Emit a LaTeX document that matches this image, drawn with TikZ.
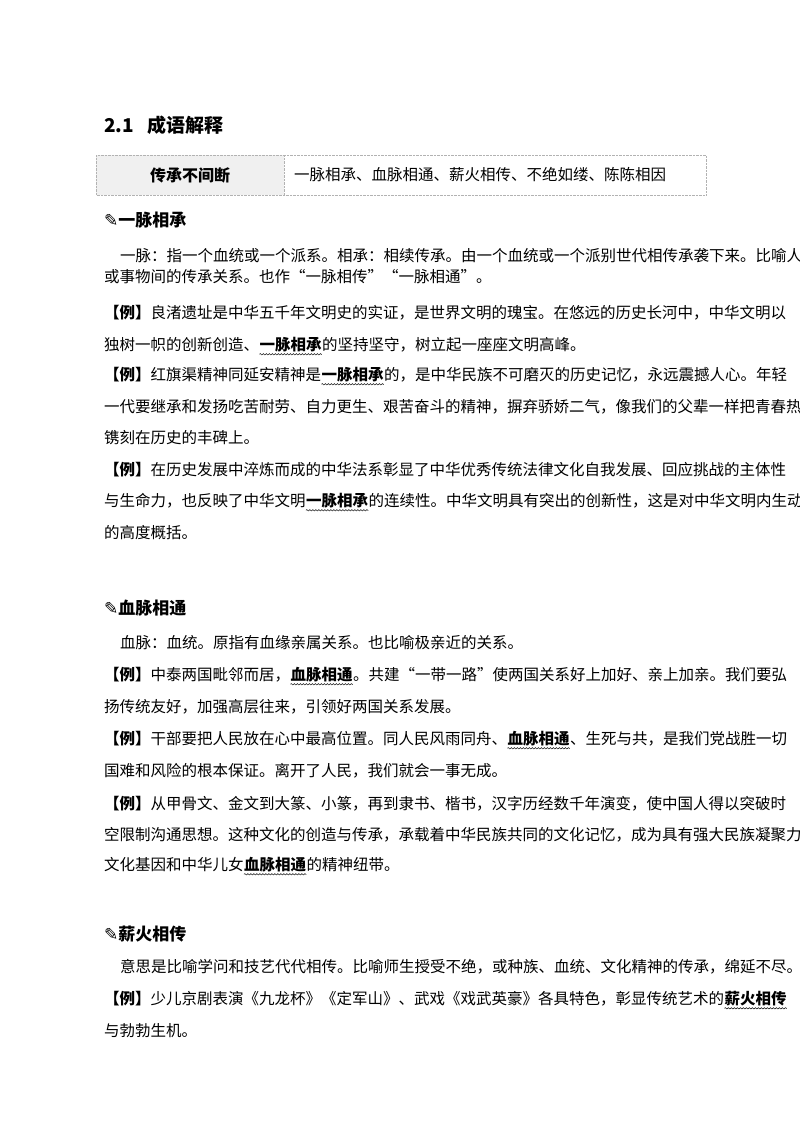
\documentclass[tikz,border=0pt]{standalone}
\usepackage{fontspec}
\usetikzlibrary{decorations.pathmorphing}
\setmainfont{Noto Sans CJK SC}
\newfontfamily\symf{DejaVu Sans}
\XeTeXlinebreaklocale "zh"
\XeTeXlinebreakskip=0pt plus 3pt
\newcommand{\kw}[1]{\tikz[baseline=(kwx.base),x=1pt,y=1pt]{\node[inner sep=0pt,anchor=base] (kwx) {\textbf{#1}};\draw[line width=0.5pt,decorate,decoration={snake,amplitude=0.7pt,segment length=3pt}] ([yshift=-2.5pt]kwx.south west) -- ([yshift=-2.5pt]kwx.south east);}}
\newcommand{\fullln}[1]{\makebox[678pt][s]{#1}}
\newcommand{\indln}[1]{\makebox[662pt][s]{#1}}
\tikzset{ln/.style={anchor=west,inner sep=0pt,font=\fontsize{15.5}{18}\selectfont},
hd/.style={anchor=west,inner sep=0pt,font=\fontsize{17}{20}\selectfont\bfseries}}
\begin{document}
\begin{tikzpicture}[x=1pt,y=-1pt]
\useasboundingbox (0,0) rectangle (800,1132);
\node[hd,font=\fontsize{19}{22}\selectfont\bfseries] (t) at (104,125) {2.1\hspace{14pt}成语解释};
\fill[gray!12] (96,155) rectangle (284,195);
\draw[gray!60,densely dotted] (96,155) rectangle (706,195) (284,155) -- (284,195);
\node[font=\fontsize{16}{18}\selectfont\bfseries] (c1) at (190,175) {传承不间断};
\node[ln] (c2) at (294,175) {一脉相承、血脉相通、薪火相传、不绝如缕、陈陈相因};
\node[hd] (h1) at (104,220) {{\symf ✎}一脉相承};
\node[ln] (a1) at (120,256) {\indln{一脉：指一个血统或一个派系。相承：相续传承。由一个血统或一个派别世代相传承袭下来。比喻人}};
\node[ln] (a2) at (104,277) {或事物间的传承关系。也作“一脉相传”“一脉相通”。};
\node[ln] (a3) at (104,313) {\fullln{\textbf{【例】}良渚遗址是中华五千年文明史的实证，是世界文明的瑰宝。在悠远的历史长河中，中华文明以}};
\node[ln] (a4) at (104,346) {独树一帜的创新创造、\kw{一脉相承}的坚持坚守，树立起一座座文明高峰。};
\node[ln] (a5) at (104,376) {\fullln{\textbf{【例】}红旗渠精神同延安精神是\kw{一脉相承}的，是中华民族不可磨灭的历史记忆，永远震撼人心。年轻}};
\node[ln] (a6) at (104,407) {\fullln{一代要继承和发扬吃苦耐劳、自力更生、艰苦奋斗的精神，摒弃骄娇二气，像我们的父辈一样把青春热血}};
\node[ln] (a7) at (104,438) {镌刻在历史的丰碑上。};
\node[ln] (a8) at (104,470) {\fullln{\textbf{【例】}在历史发展中淬炼而成的中华法系彰显了中华优秀传统法律文化自我发展、回应挑战的主体性}};
\node[ln] (a9) at (104,502) {\fullln{与生命力，也反映了中华文明\kw{一脉相承}的连续性。中华文明具有突出的创新性，这是对中华文明内生动力}};
\node[ln] (a10) at (104,533) {的高度概括。};
\node[hd] (h2) at (104,608) {{\symf ✎}血脉相通};
\node[ln] (b1) at (120,643) {血脉：血统。原指有血缘亲属关系。也比喻极亲近的关系。};
\node[ln] (b2) at (104,676) {\fullln{\textbf{【例】}中泰两国毗邻而居，\kw{血脉相通}。共建“一带一路”使两国关系好上加好、亲上加亲。我们要弘}};
\node[ln] (b3) at (104,707) {扬传统友好，加强高层往来，引领好两国关系发展。};
\node[ln] (b4) at (104,740) {\fullln{\textbf{【例】}干部要把人民放在心中最高位置。同人民风雨同舟、\kw{血脉相通}、生死与共，是我们党战胜一切}};
\node[ln] (b5) at (104,771) {国难和风险的根本保证。离开了人民，我们就会一事无成。};
\node[ln] (b6) at (104,804) {\fullln{\textbf{【例】}从甲骨文、金文到大篆、小篆，再到隶书、楷书，汉字历经数千年演变，使中国人得以突破时}};
\node[ln] (b7) at (104,835) {\fullln{空限制沟通思想。这种文化的创造与传承，承载着中华民族共同的文化记忆，成为具有强大民族凝聚力的}};
\node[ln] (b8) at (104,866) {文化基因和中华儿女\kw{血脉相通}的精神纽带。};
\node[hd] (h3) at (104,934) {{\symf ✎}薪火相传};
\node[ln] (d1) at (120,967) {\indln{意思是比喻学问和技艺代代相传。比喻师生授受不绝，或种族、血统、文化精神的传承，绵延不尽。}};
\node[ln] (d2) at (104,1000) {\fullln{\textbf{【例】}少儿京剧表演《九龙杯》《定军山》、武戏《戏武英豪》各具特色，彰显传统艺术的\kw{薪火相传}}};
\node[ln] (d3) at (104,1031) {与勃勃生机。};
\end{tikzpicture}
\end{document}
